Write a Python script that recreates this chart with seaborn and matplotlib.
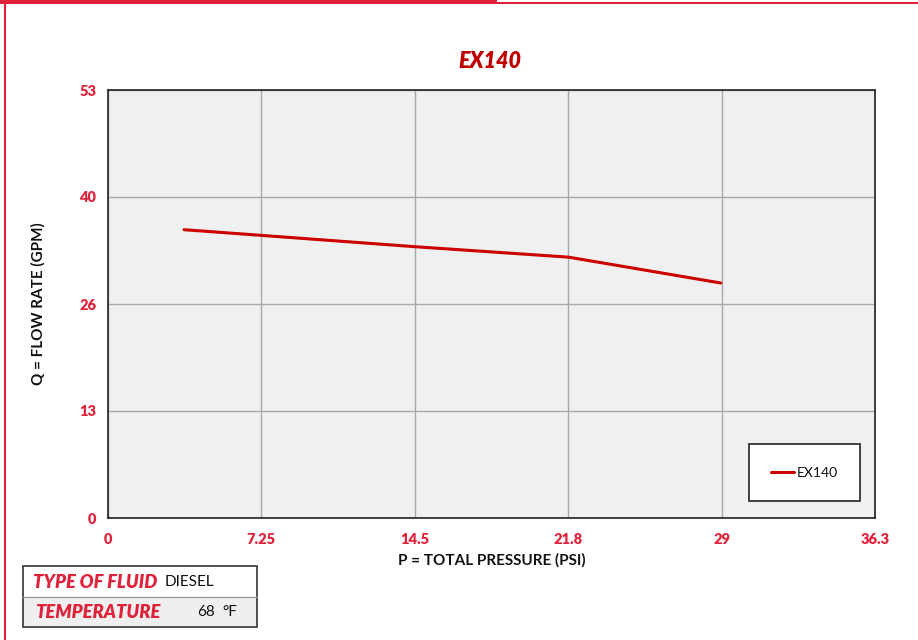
import matplotlib
matplotlib.use("Agg")
import matplotlib.pyplot as plt
import seaborn as sns
import pandas as pd
from matplotlib.lines import Line2D
from matplotlib.patches import Rectangle
from matplotlib.ticker import MultipleLocator

# Data
pressure_psi = [3.6, 7.25, 14.5, 21.8, 29.0]
flow_gpm = [35.7, 35.0, 33.6, 32.3, 29.1]
series_name = "EX140"
x_ticks = [0, 7.26, 14.52, 21.78, 29.04, 36.3]
x_tick_labels = ["0", "7.25", "14.5", "21.8", "29", "36.3"]
y_ticks = [0, 13.25, 26.5, 39.75, 53]
y_tick_labels = ["0", "13", "26", "40", "53"]
fluid_type = "DIESEL"
temperature = "68"

RED = "#e0213a"
DARKRED = "#c00000"

sns.set_theme(style="white")
plt.rcParams["font.family"] = ["Lato", "DejaVu Sans"]

fig = plt.figure(figsize=(9.18, 6.4), dpi=100)
ax = fig.add_axes([108/918, 1-518/640, (875-108)/918, (518-90)/640])
ax.set_facecolor("#f0f0f0")

df = pd.DataFrame({"P": pressure_psi, "Q": flow_gpm, "s": series_name})
sns.lineplot(data=df, x="P", y="Q", color="#cc0000", linewidth=2.2, ax=ax,
             label=series_name, sort=False)

ax.set_xlim(0, 36.3)
ax.set_ylim(0, 53)
ax.set_xticks(x_ticks)
ax.set_xticklabels(x_tick_labels)
ax.set_yticks(y_ticks)
ax.set_yticklabels(y_tick_labels)
ax.xaxis.set_minor_locator(MultipleLocator(3.63))
ax.yaxis.set_minor_locator(MultipleLocator(6.625))
ax.grid(True, which="major", color="#a8a8a8", linewidth=1)
ax.tick_params(axis="both", which="major", direction="out", length=5, width=1,
               color="#555555", labelcolor=RED, labelsize=10.5)
ax.tick_params(axis="both", which="minor", direction="in", length=4, width=0.8,
               color="#555555")
ax.tick_params(axis="x", which="major", pad=6)
for lab in ax.get_xticklabels() + ax.get_yticklabels():
    lab.set_fontweight("heavy")
for sp in ax.spines.values():
    sp.set_visible(True)
    sp.set_color("#222222")
    sp.set_linewidth(1.2)

ax.set_xlabel("P = TOTAL PRESSURE (PSI)", fontsize=11, fontweight="bold",
              color="#111111", labelpad=5)
ax.set_ylabel("Q = FLOW RATE (GPM)", fontsize=11, fontweight="bold",
              color="#111111", labelpad=24)

leg = ax.legend(loc="lower right", bbox_to_anchor=(0.980, 0.04), frameon=True,
                fancybox=False, edgecolor="#222222", facecolor="white",
                framealpha=1, fontsize=10, handlelength=1.6,
                borderpad=1.6, borderaxespad=0, handletextpad=0.2)
leg.get_frame().set_linewidth(1.2)
for t in leg.get_texts():
    t.set_color("#111111")

fig.text(490/918, 1-62/640, "EX140", ha="center", va="center", color=DARKRED,
         fontsize=15.5, fontweight="heavy", fontstyle="italic")

# frame decorations
fig.add_artist(Rectangle((0, 1-4/640), 497/918, 4/640, transform=fig.transFigure,
                         facecolor=RED, edgecolor="none"))
fig.add_artist(Line2D([497/918, 1], [1-2.5/640, 1-2.5/640], transform=fig.transFigure,
                      color=RED, linewidth=1.5))
fig.add_artist(Line2D([5/918, 5/918], [0, 1], transform=fig.transFigure,
                      color=RED, linewidth=1.5))

# fluid table
def fx(px):
    return px/918
def fy(py):
    return 1-py/640
fig.add_artist(Rectangle((fx(23), fy(627)), fx(257)-fx(23), fy(597)-fy(627),
                         transform=fig.transFigure, facecolor="#efefef",
                         edgecolor="none"))
fig.add_artist(Rectangle((fx(23), fy(627)), fx(257)-fx(23), fy(566)-fy(627),
                         transform=fig.transFigure, facecolor="none",
                         edgecolor="#333333", linewidth=1.2))
fig.add_artist(Line2D([fx(23), fx(257)], [fy(597), fy(597)], transform=fig.transFigure,
                      color="#999999", linewidth=1))
fig.text(fx(33), fy(582), "TYPE OF FLUID", color=RED, fontsize=13.2,
         fontweight="heavy", fontstyle="italic", va="center", ha="left")
fig.text(fx(165), fy(582), fluid_type, color="#111111", fontsize=11,
         va="center", ha="left")
fig.text(fx(35), fy(612), "TEMPERATURE", color=RED, fontsize=13.2,
         fontweight="heavy", fontstyle="italic", va="center", ha="left")
fig.text(fx(197), fy(612), temperature, color="#111111", fontsize=11,
         va="center", ha="left")
fig.text(fx(222), fy(612), "°F", color="#111111", fontsize=11,
         va="center", ha="left")

fig.savefig("out.png", dpi=100)
